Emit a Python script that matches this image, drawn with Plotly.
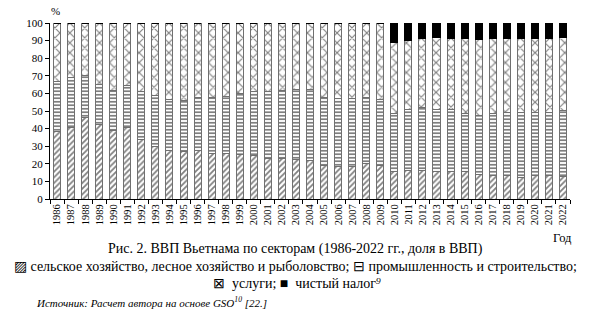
import plotly.graph_objects as go

years = [str(y) for y in range(1986, 2023)]

agriculture = [38.1, 40.6, 46.3, 42.1, 38.7, 40.5, 33.9, 29.9, 27.4, 27.2, 27.8, 25.8, 25.8,
               25.4, 24.5, 23.2, 23.0, 22.5, 21.8, 19.3, 18.7, 18.7, 20.4, 19.2,
               15.8, 16.4, 16.4, 15.8, 15.4, 15.4, 14.1, 13.5, 13.1, 12.2, 13.1, 13.1, 12.6]
industry = [28.9, 28.4, 24.0, 22.9, 22.7, 23.8, 27.3, 28.9, 28.9, 28.8, 29.7, 32.1, 32.5,
            34.5, 36.7, 38.1, 38.5, 39.5, 40.2, 38.1, 38.6, 38.5, 37.1, 37.4,
            32.7, 34.3, 35.4, 34.9, 35.3, 33.4, 33.4, 35.0, 36.0, 36.9, 36.0, 36.3, 37.8]
net_tax = [0] * 24 + [10.9, 10.2, 8.9, 8.5, 8.8, 8.9, 9.2, 8.9, 8.8, 8.8, 8.8, 8.8, 8.5]
services = [round(100 - a - i - t, 1) for a, i, t in zip(agriculture, industry, net_tax)]

y_ticks = list(range(0, 101, 10))

W, H = 590, 314
L, R, T, B = 50, 20, 23, 115
plot_h = H - T - B


def py(pix):
    return (H - B - pix) / plot_h


def px(pix):
    return (pix - L) / (W - L - R)


serif = "Liberation Serif, Times New Roman, serif"
outline = dict(color="#707070", width=1)

fig = go.Figure()
fig.add_trace(go.Bar(x=years, y=agriculture, name="agri",
                     marker=dict(color="white", line=outline,
                                 pattern=dict(shape="/", fgcolor="black", bgcolor="white",
                                              size=4, solidity=0.45))))
fig.add_trace(go.Bar(x=years, y=industry, name="ind",
                     marker=dict(color="white", line=outline,
                                 pattern=dict(shape="-", fgcolor="black", bgcolor="white",
                                              size=3.5, solidity=0.5))))
fig.add_trace(go.Bar(x=years, y=services, name="serv",
                     marker=dict(color="white", line=outline,
                                 pattern=dict(shape="x", fgcolor="black", bgcolor="white",
                                              size=7, solidity=0.3))))
fig.add_trace(go.Bar(x=years, y=net_tax, name="tax",
                     marker=dict(color="black", line=dict(color="black", width=1))))

fig.update_layout(
    barmode="stack", bargap=0.5,
    width=W, height=H,
    margin=dict(l=L, r=R, t=T, b=B),
    paper_bgcolor="white", plot_bgcolor="white",
    showlegend=False,
    font=dict(family=serif, color="black", size=11),
)
fig.update_xaxes(type="category", tickangle=-90, tickson="boundaries",
                 ticks="outside", ticklen=4, tickcolor="black",
                 showline=True, linecolor="black", linewidth=1,
                 showgrid=False, tickfont=dict(size=10.5, family=serif))
fig.update_yaxes(range=[0, 100], tickvals=y_ticks, ticks="outside", ticklen=4,
                 tickcolor="black", showline=True, linecolor="black", linewidth=1,
                 showgrid=False, zeroline=False, tickfont=dict(size=11, family=serif))

ann = [
    dict(text="%", x=px(55), y=py(11), xanchor="center", yanchor="middle", font=dict(size=11)),
    dict(text="Год", x=px(574), y=py(238), xanchor="right", yanchor="middle", font=dict(size=12.5)),
    dict(text="Рис. 2. ВВП Вьетнама по секторам (1986-2022 гг., доля в ВВП)",
         x=px(295), y=py(249), xanchor="center", yanchor="middle", font=dict(size=14)),
    dict(text="▨ сельское хозяйство, лесное хозяйство и рыболовство; ⊟ промышленность и строительство;",
         x=px(295), y=py(266), xanchor="center", yanchor="middle", font=dict(size=14)),
    dict(text="⊠  услуги; ■  чистый налог<i>⁹</i>",
         x=px(297), y=py(283), xanchor="center", yanchor="middle", font=dict(size=14)),
    dict(text="<i>Источник: Расчет автора на основе GSO<sup>10</sup> [22.]</i>",
         x=px(34), y=py(302), xanchor="left", yanchor="middle", font=dict(size=11)),
]
for a in ann:
    a.update(xref="paper", yref="paper", showarrow=False)
fig.update_layout(annotations=ann)

fig.write_html("out.html")
